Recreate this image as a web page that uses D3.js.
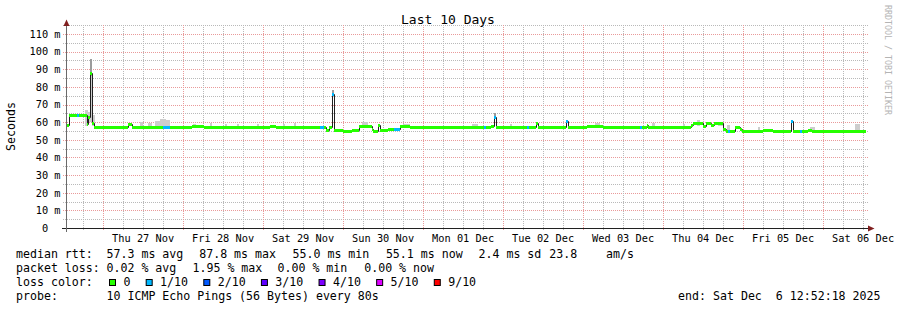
<!DOCTYPE html>
<html><head><meta charset="utf-8">
<script src="https://cdn.jsdelivr.net/npm/d3@7"></script>
<style>
html,body{margin:0;padding:0;background:#fff;}
svg{display:block;}
text{font-family:"DejaVu Sans Mono",monospace;white-space:pre;}
</style>
</head><body>
<svg id="c" width="897" height="310"></svg>
<script>
// ---------------- data ----------------
const title = "Last 10 Days";
const yAxisTitle = "Seconds";
const endTime = new Date(2025, 11, 6, 12, 52, 18);
const spanHours = 240;
const yTickValues = [0, 10, 20, 30, 40, 50, 60, 70, 80, 90, 100, 110];
const yTickLabels = ["0", "10 m", "20 m", "30 m", "40 m", "50 m", "60 m", "70 m", "80 m", "90 m", "100 m", "110 m"];

// median rtt (ms) step series: start hour (from start of window), value, loss (tenths)
const segHour = [0,0.9,3.3,3.9,5.7,6.3,6.6,7.2,7.8,8.4,
  18.6,19.8,29.1,31.2,37.8,41.4,61.2,63.0,76.2,77.4,
  78.0,78.9,79.8,80.4,83.1,85.8,87.9,91.8,92.1,93.6,
  94.2,96.6,98.4,100.2,101.1,103.2,118.2,125.4,126.0,127.5,
  128.4,129.0,138.3,138.9,141.0,141.6,150.0,150.6,156.3,161.1,
  172.2,172.8,174.3,174.6,187.5,188.1,191.1,192.0,193.5,194.4,
  197.1,198.0,198.6,199.2,200.7,202.2,202.8,209.1,212.1,217.5,
  218.1,220.2,220.8,222.6,223.8,233.7];
const segMedian = [58.2,64.3,64.3,64.3,63.8,59.0,63.0,87.8,59.5,57.3,
  59.0,57.3,57.3,57.3,58.0,57.3,57.8,57.3,57.2,57.2,
  55.5,57.0,76.0,55.4,55.0,55.4,57.6,56.0,55.0,58.6,
  55.6,56.0,56.0,57.6,57.9,57.3,57.2,57.2,57.2,57.9,
  63.0,57.3,57.3,57.3,59.7,57.3,60.7,57.3,57.8,57.3,
  57.3,57.3,58.5,57.3,58.6,59.5,57.9,59.5,58.5,59.5,
  56.3,55.0,55.0,55.0,57.0,56.0,55.0,55.4,55.0,60.8,
  55.0,55.0,55.0,55.3,55.0,55.1];
const segLoss = [0,0,1,0,0,0,0,0,0,0,
  0,0,1,0,0,0,0,0,1,0,
  0,0,1,0,0,0,0,0,0,0,
  0,0,1,0,0,0,0,1,0,0,
  1,0,1,0,0,0,1,0,0,0,
  1,0,0,0,0,0,0,0,0,0,
  0,0,1,0,0,0,0,0,0,1,
  0,1,0,0,0,0];

// smoke (spread of individual pings)
const smokeFrom = [5.7,6.6,7.2,7.2,7.8,22.2,24.6,26.7,28.2,30.0,38.1,43.2,47.7,51.3,57.3,65.1,68.4,79.8,88.8,101.1,121.8,128.4,133.2,158.7,175.8,185.1,189.3,195.6,198.3,207.6,223.2,236.7];
const smokeTo   = [6.6,7.2,7.8,7.8,8.7,23.1,25.8,28.2,30.0,31.2,39.0,43.8,48.3,51.9,57.9,65.7,69.0,80.4,90.6,103.2,123.6,129.0,133.8,160.2,176.7,185.7,190.2,197.1,199.2,208.2,224.7,238.2];
const smokeLow  = [58,60,60,86,58,57,57,57,57,57,57,57,57,57,57,57,57,76,57,57,57,63,57,57,57,57,58,58,55,55,55,55];
const smokeHigh = [67,66,88,96,64,60,59.5,60.5,62,61,59,59.5,59,59.2,59,59,59.5,78.5,60,59,58.8,65,58.8,59.3,59.5,59,61,60.2,58.3,57,57.5,59.2];
const smokeDensity = [1,1,1,2,1,1,1,1,1,1,1,1,1,1,1,1,1,2,1,1,1,2,1,1,1,1,1,1,1,1,1,1];

const lossLabels = ["0", "1/10", "2/10", "3/10", "4/10", "5/10", "9/10"];
const lossColors = ["#26ff00", "#00b8ff", "#0059ff", "#5e00ff", "#7e00ff", "#dd00ff", "#ff0000"];

const rttPieces = ["median rtt:", "57.3 ms avg", "87.8 ms max", "55.0 ms min", "55.1 ms now", "2.4 ms sd", "23.8", "am/s"];
const lossPieces = ["packet loss:", "0.02 % avg", "1.95 % max", "0.00 % min", "0.00 % now"];
const lossColorLabel = "loss color:";
const probePieces = ["probe:", "10 ICMP Echo Pings (56 Bytes) every 80s"];
const endLabel = "end: Sat Dec  6 12:52:18 2025";
const watermark = "RRDTOOL / TOBI OETIKER";

// ---------------- drawing ----------------
const svg = d3.select("#c");
svg.append("rect").attr("width", 897).attr("height", 310).attr("fill", "#fff");

const startTime = new Date(endTime.getTime() - spanHours * 3600e3);
const X0 = 66, X1 = 866;
const xs = d3.scaleTime().domain([startTime, endTime]).range([X0, X1]);
const ys = d3.scaleLinear().domain([0, 110]).range([228, 34]);
const hToDate = h => new Date(startTime.getTime() + h * 3600e3);
const px = v => Math.round(v) + 0.5;

const gridMinor = "#b9b9b9", gridMajor = "#e99a9a";

// horizontal grid every 5 ms
const g = svg.append("g");
d3.range(5, 116, 5).forEach(v => {
  const major = v % 10 === 0;
  g.append("line").attr("x1", 63).attr("x2", 869)
    .attr("y1", px(ys(v))).attr("y2", px(ys(v)))
    .attr("stroke", major ? gridMajor : gridMinor)
    .attr("stroke-dasharray", "1,1");
});
// vertical grid every 6 hours, major at midnight
d3.timeHour.every(6).range(startTime, endTime).forEach(t => {
  const major = t.getHours() === 0;
  g.append("line").attr("x1", px(xs(t))).attr("x2", px(xs(t)))
    .attr("y1", 25).attr("y2", 231)
    .attr("stroke", major ? gridMajor : gridMinor)
    .attr("stroke-dasharray", "1,1");
});

// smoke
const smokeShade = d => d === 2 ? "#9c9c9c" : "#cdcdcd";
smokeFrom.forEach((f, i) => {
  const x1 = Math.round(xs(hToDate(f))), x2 = Math.round(xs(hToDate(smokeTo[i])));
  const yTop = Math.round(ys(smokeHigh[i])), yBot = Math.round(ys(smokeLow[i]));
  svg.append("rect").attr("x", x1).attr("y", yTop)
    .attr("width", Math.max(1, x2 - x1)).attr("height", Math.max(1, yBot - yTop))
    .attr("fill", smokeShade(smokeDensity[i]));
});

// median line (step)
const pts = segHour.map((h, i) => [px(xs(hToDate(h))), Math.round(ys(segMedian[i])) + 0.5]);
pts.push([X1, pts[pts.length - 1][1]]);
svg.append("path")
  .attr("d", d3.line().curve(d3.curveStepAfter)(pts))
  .attr("fill", "none").attr("stroke", "#202020").attr("stroke-width", 1);

// loss-coloured bands
const lossColor = l => lossColors[Math.min(l, 6)];
segHour.forEach((h, i) => {
  const xa = Math.round(xs(hToDate(h)));
  const xb = i + 1 < segHour.length ? Math.round(xs(hToDate(segHour[i + 1]))) : X1;
  const yc = Math.round(ys(segMedian[i]));
  svg.append("rect").attr("x", xa).attr("y", yc - 1).attr("width", xb - xa).attr("height", 3)
    .attr("fill", lossColor(segLoss[i]));
});

// axes
svg.append("line").attr("x1", 62).attr("x2", 869).attr("y1", 228.5).attr("y2", 228.5)
  .attr("stroke", "#202020");
svg.append("line").attr("x1", 66.5).attr("x2", 66.5).attr("y1", 232).attr("y2", 24)
  .attr("stroke", "#6a6a6a");
svg.append("path").attr("d", "M63.5,26 L69.5,26 L66.5,19.5 Z").attr("fill", "#801f1f");
svg.append("path").attr("d", "M868,225.5 L868,231.5 L874.5,228.5 Z").attr("fill", "#801f1f");

// y tick labels
yTickValues.forEach((v, i) => {
  const lab = yTickLabels[i];
  const shift = lab.indexOf(" ") < 0 ? 12.4 : 0;
  svg.append("text").attr("x", 60.5 - shift).attr("y", ys(v) + 3.8)
    .attr("text-anchor", "end").attr("font-size", 10.3).attr("fill", "#000").text(lab);
});

// x labels at noon of each day
const fmt = d3.timeFormat("%a %d %b");
d3.timeDay.range(d3.timeDay.floor(startTime), endTime).forEach(d => {
  const noon = d3.timeHour.offset(d, 12);
  if (noon < startTime || noon > endTime) return;
  svg.append("text").attr("x", xs(noon)).attr("y", 241.5)
    .attr("text-anchor", "middle").attr("font-size", 10.3).attr("fill", "#000").text(fmt(noon));
});

// title
svg.append("text").attr("x", 448).attr("y", 24.3).attr("text-anchor", "middle")
  .attr("font-size", 13).attr("fill", "#000").text(title);

// y axis title
svg.append("text").attr("transform", "translate(15,126.5) rotate(-90)")
  .attr("text-anchor", "middle").attr("font-size", 11.6).attr("fill", "#000").text(yAxisTitle);

// watermark
svg.append("text").attr("transform", "translate(884.5,5) rotate(90)")
  .attr("font-size", 8.3).attr("fill", "#b4b4b4").text(watermark);

// legend
const cw = 6.98;
const rowY = [257.5, 271.7, 286, 300.2];
const rttX = [16, 106.5, 199.2, 292.5, 385.9, 478.5, 549.2, 606];
const lossX = [16, 106.5, 192.5, 277.5, 364.2];
const probeX = [16, 106.5];
function row(pieces, xsArr, y) {
  pieces.forEach((s, i) => {
    svg.append("text").attr("x", xsArr[i]).attr("y", y)
      .attr("font-size", 11.6).attr("fill", "#000").text(s);
  });
}
row(rttPieces, rttX, rowY[0]);
row(lossPieces, lossX, rowY[1]);
row([lossColorLabel], [16], rowY[2]);
row(probePieces, probeX, rowY[3]);
let bx = 109;
lossLabels.forEach((lab, i) => {
  svg.append("rect").attr("x", bx + 0.5).attr("y", 279.5).attr("width", 6).attr("height", 6)
    .attr("fill", lossColors[i]).attr("stroke", "#000").attr("stroke-width", 1);
  const tx = bx + 14.4;
  svg.append("text").attr("x", tx).attr("y", rowY[2])
    .attr("font-size", 11.6).attr("fill", "#000").text(lab);
  bx = tx + lab.length * cw + 15.3;
});
svg.append("text").attr("x", 880.5).attr("y", rowY[3]).attr("xml:space", "preserve")
  .attr("text-anchor", "end").attr("font-size", 11.6).attr("fill", "#000").text(endLabel);
</script>
</body></html>
